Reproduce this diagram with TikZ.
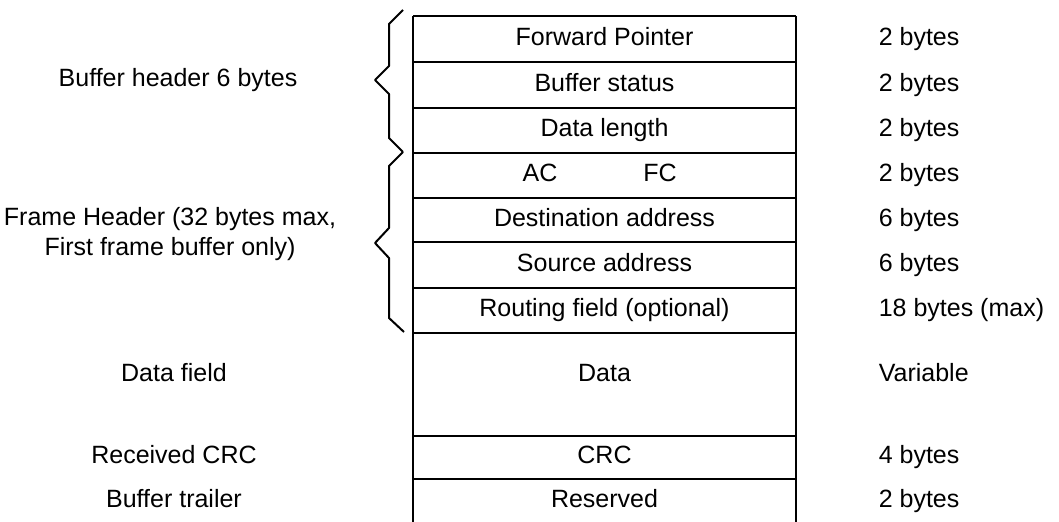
\documentclass[tikz,border=0pt]{standalone}
\usepackage{fontspec}
\setmainfont{Liberation Sans}
\begin{document}
\begin{tikzpicture}[x=.5pt,y=-.5pt,line width=.8pt,line join=round,
  every node/.style={font=\fontsize{12.5}{15.4}\selectfont,inner sep=0pt,
    text height=9.2pt,text depth=2.4pt},
  brace/.style={line width=1pt},
  side/.style={align=center}]
  \useasboundingbox (0,0) rectangle (1059,522);
  % buffer layout
  \draw (413,16) -- (413,522) (796,16) -- (796,522);
  \foreach \ytop/\ybot/\ytext/\name/\field/\size in {
    16/62/39/fwd/Forward Pointer/2 bytes,
    62/108/85/status/Buffer status/2 bytes,
    108/153/130/len/Data length/2 bytes,
    153/198/175/acfc//2 bytes,
    198/242/220/dest/Destination address/6 bytes,
    242/288/265/src/Source address/6 bytes,
    288/333/310/route/Routing field (optional)/18 bytes (max),
    333/436/375/data/Data/Variable,
    436/479/457/crc/CRC/4 bytes,
    479/522/501/resv/Reserved/2 bytes} {
    \draw (413,\ytop) -- (796,\ytop);
    \node (\name) at (604.5,\ytext) {\field};
    \node[anchor=west] (\name size) at (878,\ytext) {\size};
  }
  \node (ac) at (540,175) {AC};
  \node (fc) at (660,175) {FC};
  % braces
  \draw[brace] (403,10) -- (389,24) -- (389,66) -- (375,80) -- (389,94)
    -- (389,138) -- (403,152);
  \draw[brace] (403,152) -- (389,166) -- (389,228) -- (375,243) -- (389,258)
    -- (389,318) -- (404,332);
  % left labels
  \node[side] (bufhead) at (178,80) {Buffer header 6 bytes};
  \node[side,text height=,text depth=] (framehead) at (170,234)
    {Frame Header (32 bytes max,\\First frame buffer only)};
  \node[side] (datafield) at (174,375) {Data field};
  \node[side] (rxcrc) at (174,457) {Received CRC};
  \node[side] (trailer) at (174,501) {Buffer trailer};
\end{tikzpicture}
\end{document}
